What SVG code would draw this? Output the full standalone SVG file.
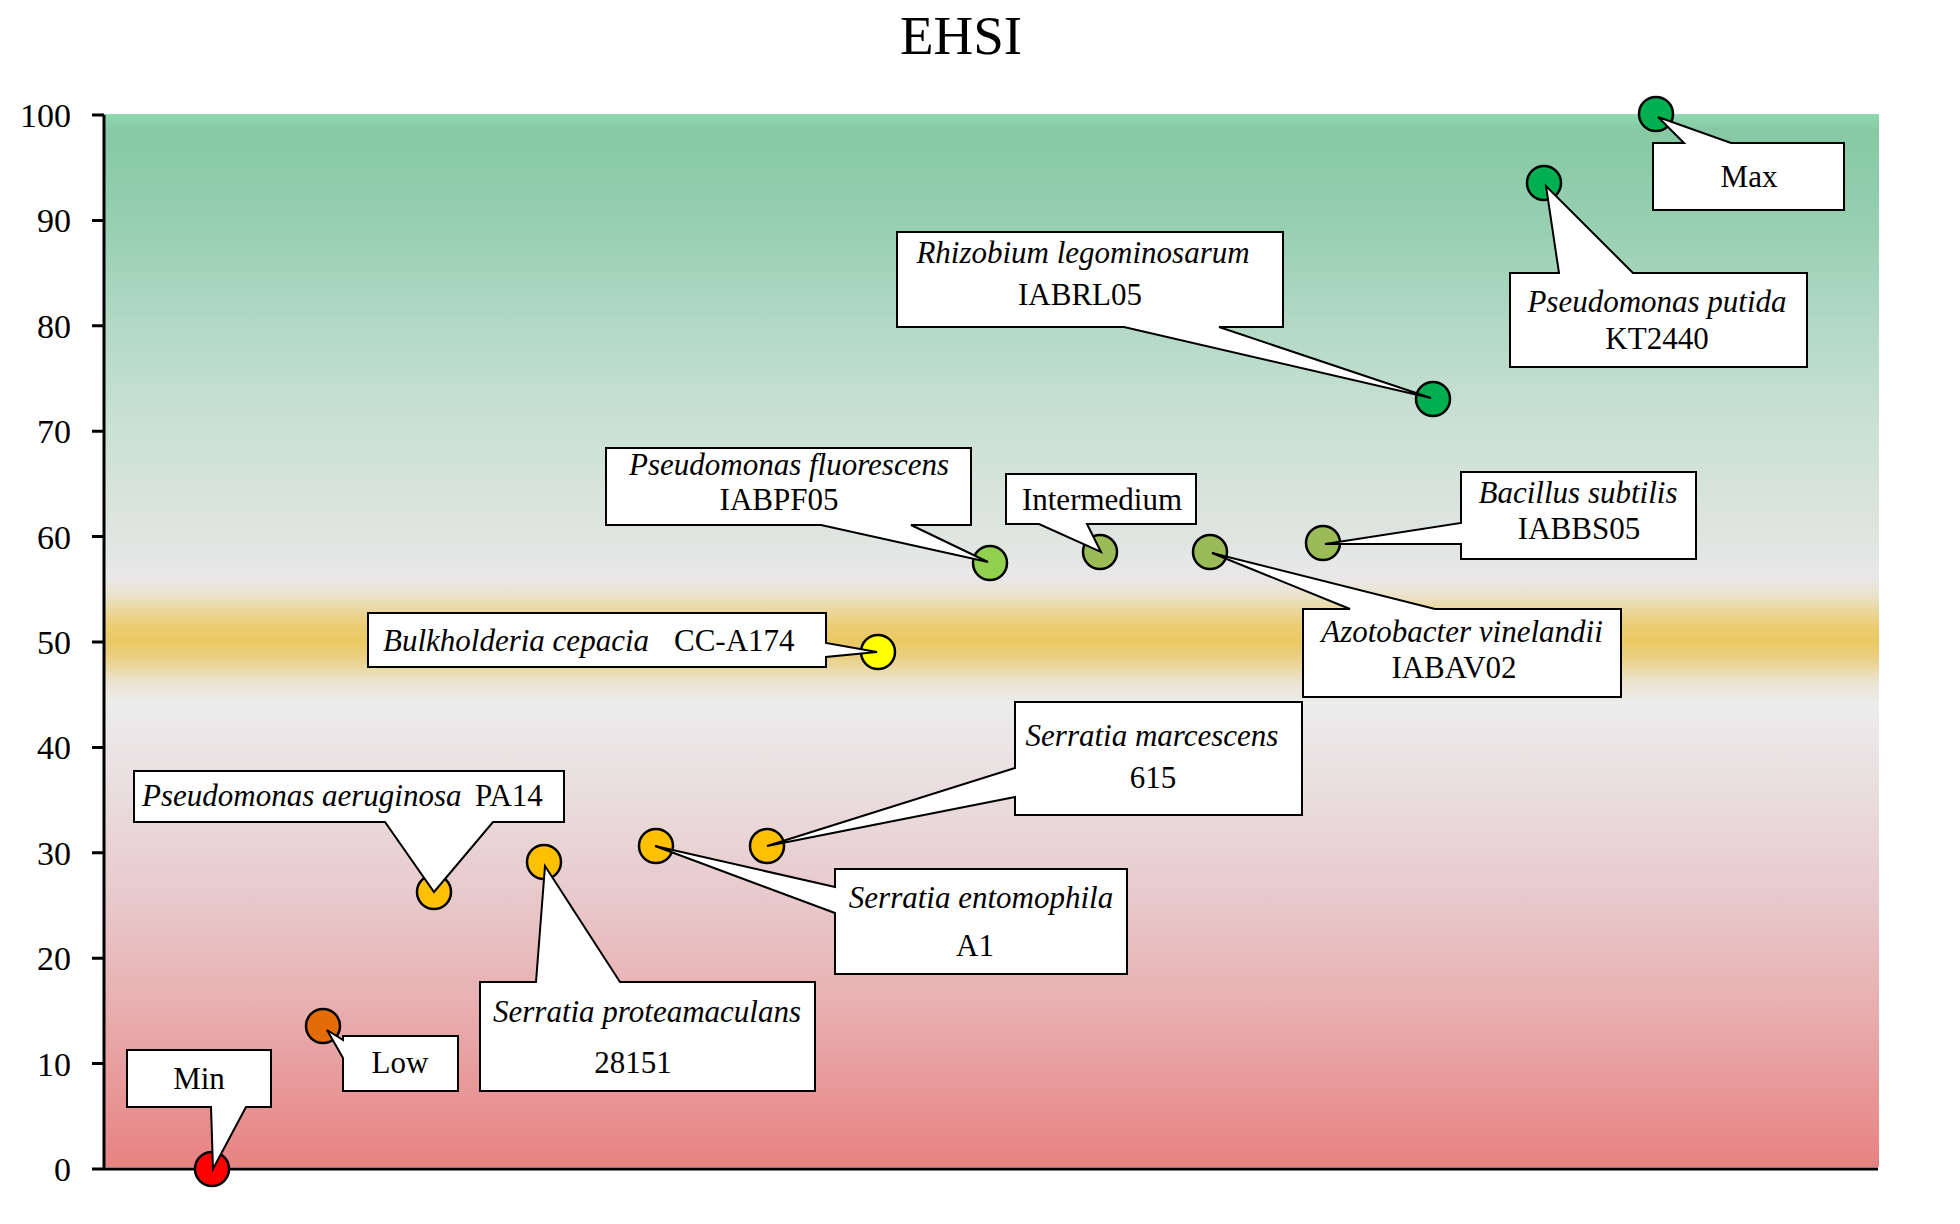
<svg xmlns="http://www.w3.org/2000/svg" width="1960" height="1224" viewBox="0 0 1960 1224">
<defs>
<linearGradient id="bg" x1="0" y1="0" x2="0" y2="1">
<stop offset="0" stop-color="#8FDAB2"/>
<stop offset="0.015" stop-color="#86C9A4"/>
<stop offset="0.1" stop-color="#95CFB0"/>
<stop offset="0.2" stop-color="#B2D9C5"/>
<stop offset="0.3" stop-color="#CBE1D5"/>
<stop offset="0.4" stop-color="#DFE5E1"/>
<stop offset="0.44" stop-color="#E8E8E8"/>
<stop offset="0.455" stop-color="#EBE4D0"/>
<stop offset="0.485" stop-color="#EACD75"/>
<stop offset="0.5" stop-color="#EBC862"/>
<stop offset="0.515" stop-color="#EACF80"/>
<stop offset="0.54" stop-color="#EBE4D2"/>
<stop offset="0.56" stop-color="#ECECEC"/>
<stop offset="0.65" stop-color="#E9DCDE"/>
<stop offset="0.75" stop-color="#E8C8CA"/>
<stop offset="0.85" stop-color="#E8AEAF"/>
<stop offset="1" stop-color="#E88282"/>
</linearGradient>
</defs>
<style>
text { font-family: "Liberation Serif", "Times New Roman", serif; fill: #000; }
.lbl { font-size: 31px; }
.it { font-style: italic; }
.tick { font-size: 34px; text-anchor: end; }
.c { text-anchor: middle; }
.callout { fill: #FFFFFF; stroke: #000; stroke-width: 2; stroke-linejoin: miter; }
.pt { stroke: #000; stroke-width: 2.5; }
.axis { stroke: #000; stroke-width: 3; fill: none; }
</style>
<rect width="1960" height="1224" fill="#FFFFFF"/>
<text x="961" y="54" class="c" style="font-size:55px">EHSI</text>
<g id="plot-area">
<rect x="104" y="114" width="1775" height="1053" fill="url(#bg)"/>
</g>
<g id="axes">
<path class="axis" d="M104,115 V1169 M92,1169 H1878"/>
<path class="axis" d="M92,115 H104 M92,220.4 H104 M92,325.8 H104 M92,431.2 H104 M92,536.6 H104 M92,642 H104 M92,747.4 H104 M92,852.8 H104 M92,958.2 H104 M92,1063.6 H104"/>
<text class="tick" x="71" y="127">100</text>
<text class="tick" x="71" y="232">90</text>
<text class="tick" x="71" y="338">80</text>
<text class="tick" x="71" y="443">70</text>
<text class="tick" x="71" y="549">60</text>
<text class="tick" x="71" y="654">50</text>
<text class="tick" x="71" y="759">40</text>
<text class="tick" x="71" y="865">30</text>
<text class="tick" x="71" y="970">20</text>
<text class="tick" x="71" y="1076">10</text>
<text class="tick" x="71" y="1181">0</text>
</g>
<g id="points">
<circle class="pt" cx="1656" cy="114" r="17" fill="#00B050"/>
<circle class="pt" cx="1544" cy="183" r="17" fill="#00B050"/>
<circle class="pt" cx="1433" cy="399" r="17" fill="#00B050"/>
<circle class="pt" cx="990" cy="563" r="17" fill="#92D050"/>
<circle class="pt" cx="1100" cy="552" r="17" fill="#9BBB59"/>
<circle class="pt" cx="1210" cy="552" r="17" fill="#9BBB59"/>
<circle class="pt" cx="1323" cy="543" r="17" fill="#9BBB59"/>
<circle class="pt" cx="878" cy="652" r="17" fill="#FFFF00"/>
<circle class="pt" cx="767" cy="846" r="17" fill="#FFC000"/>
<circle class="pt" cx="656" cy="846" r="17" fill="#FFC000"/>
<circle class="pt" cx="544" cy="862" r="17" fill="#FFC000"/>
<circle class="pt" cx="434" cy="892" r="17" fill="#FFC000"/>
<circle class="pt" cx="323" cy="1026" r="17" fill="#E36C09"/>
<circle class="pt" cx="212" cy="1169" r="17" fill="#FF0000"/>
</g>
<g id="connectors">
<path id="c-max" class="callout" d="M1653,143 L1684,143 L1658,117 L1731,143 L1844,143 L1844,210 L1653,210 Z"/>
<path id="c-putida" class="callout" d="M1510,273 L1559,273 L1546,186 L1633,273 L1807,273 L1807,367 L1510,367 Z"/>
<path id="c-rhizo" class="callout" d="M897,232 L1283,232 L1283,327 L1219,327 L1431,398 L1124,327 L897,327 Z"/>
<path id="c-fluor" class="callout" d="M606,448 L971,448 L971,525 L911,525 L988,562 L821,525 L606,525 Z"/>
<path id="c-inter" class="callout" d="M1006,474 L1196,474 L1196,524 L1087,524 L1101,552 L1039,524 L1006,524 Z"/>
<path id="c-bacil" class="callout" d="M1461,472 L1696,472 L1696,559 L1461,559 L1461,544 L1325,544 L1461,523 Z"/>
<path id="c-azoto" class="callout" d="M1303,609 L1350,609 L1212,553 L1435,609 L1621,609 L1621,697 L1303,697 Z"/>
<path id="c-bulk" class="callout" d="M368,613 L826,613 L826,643 L877,652 L826,657 L826,667 L368,667 Z"/>
<path id="c-aerug" class="callout" d="M134,771 L564,771 L564,822 L493,822 L434,892 L385,822 L134,822 Z"/>
<path id="c-prote" class="callout" d="M480,982 L536,982 L545,866 L620,982 L815,982 L815,1091 L480,1091 Z"/>
<path id="c-marc" class="callout" d="M1015,702 L1302,702 L1302,815 L1015,815 L1015,797 L767,846 L1015,768 Z"/>
<path id="c-ento" class="callout" d="M835,869 L1127,869 L1127,974 L835,974 L835,913 L655,846 L835,887 Z"/>
<path id="c-low" class="callout" d="M343,1036 L458,1036 L458,1091 L343,1091 L343,1058 L327,1030 L343,1040 Z"/>
<path id="c-min" class="callout" d="M127,1050 L271,1050 L271,1107 L246,1107 L213,1169 L211,1107 L127,1107 Z"/>
</g>
<g id="node-max"><text class="lbl c" x="1749" y="187">Max</text></g>
<g id="node-putida"><text class="lbl c it" x="1657" y="312">Pseudomonas putida</text><text class="lbl c" x="1657" y="349">KT2440</text></g>
<g id="node-rhizobium"><text class="lbl c it" x="1083" y="263">Rhizobium legominosarum</text><text class="lbl c" x="1080" y="305">IABRL05</text></g>
<g id="node-fluorescens"><text class="lbl c it" x="789" y="475">Pseudomonas fluorescens</text><text class="lbl c" x="779" y="510">IABPF05</text></g>
<g id="node-intermedium"><text class="lbl c" x="1102" y="510">Intermedium</text></g>
<g id="node-bacillus"><text class="lbl c it" x="1578" y="503">Bacillus subtilis</text><text class="lbl c" x="1579" y="539">IABBS05</text></g>
<g id="node-azotobacter"><text class="lbl c it" x="1462" y="642">Azotobacter vinelandii</text><text class="lbl c" x="1454" y="678">IABAV02</text></g>
<g id="node-bulkholderia"><text class="lbl" x="383" y="651"><tspan class="it">Bulkholderia cepacia</tspan><tspan x="674">CC-A174</tspan></text></g>
<g id="node-aeruginosa"><text class="lbl" x="142" y="806"><tspan class="it">Pseudomonas aeruginosa</tspan><tspan x="475">PA14</tspan></text></g>
<g id="node-proteamaculans"><text class="lbl c it" x="647" y="1022">Serratia proteamaculans</text><text class="lbl c" x="633" y="1073">28151</text></g>
<g id="node-marcescens"><text class="lbl c it" x="1152" y="746">Serratia marcescens</text><text class="lbl c" x="1153" y="788">615</text></g>
<g id="node-entomophila"><text class="lbl c it" x="981" y="908">Serratia entomophila</text><text class="lbl c" x="975" y="956">A1</text></g>
<g id="node-low"><text class="lbl c" x="400" y="1073">Low</text></g>
<g id="node-min"><text class="lbl c" x="199" y="1089">Min</text></g>
</svg>
